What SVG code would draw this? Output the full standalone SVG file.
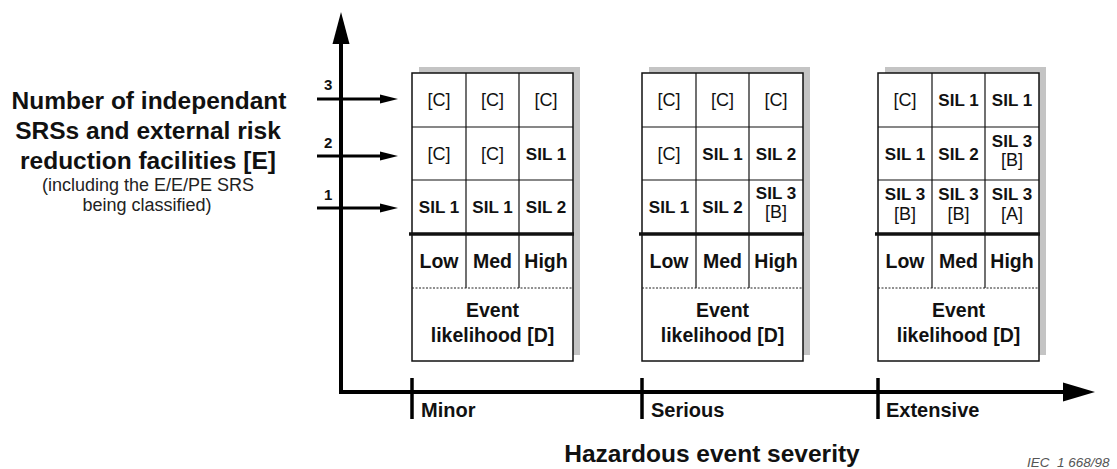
<svg xmlns="http://www.w3.org/2000/svg" width="1117" height="469" viewBox="0 0 1117 469">
<style>
  text { font-family: "Liberation Sans", Arial, sans-serif; fill: #111; }
  .head { font-size: 24.5px; font-weight: bold; text-anchor: middle; }
  .sub { font-size: 18px; text-anchor: middle; fill: #222; }
  .num { font-size: 15px; font-weight: bold; }
  .sil { font-size: 17px; font-weight: bold; text-anchor: middle; }
  .br { font-size: 18px; text-anchor: middle; }
  .lmh { font-size: 19.5px; font-weight: bold; text-anchor: middle; }
  .ev { font-size: 19.5px; font-weight: bold; text-anchor: middle; }
  .sev { font-size: 20px; font-weight: bold; }
  .title { font-size: 24.5px; font-weight: bold; text-anchor: middle; }
  .iec { font-size: 13.5px; font-style: italic; fill: #555; white-space: pre; }
  .shadow { fill: #c4c4c4; }
  .frame { fill: #fff; stroke: #111; stroke-width: 1.5; }
  .grid { stroke: #111; stroke-width: 1.2; fill: none; }
  .thick { stroke: #111; stroke-width: 3.5; }
  .dot { stroke: #222; stroke-width: 1; stroke-dasharray: 2 1.5; }
  .axis { stroke: #000; stroke-width: 4; fill: none; }
  .tick { stroke: #000; stroke-width: 3.5; }
  .harrow { stroke: #000; stroke-width: 3; }
  .head-fill { fill: #000; }
</style>

<g id="left-label">
  <text class="head" x="149" y="109">Number of independant</text>
  <text class="head" x="148" y="139">SRSs and external risk</text>
  <text class="head" x="148" y="169">reduction facilities [E]</text>
  <text class="sub" x="148" y="191">(including the E/E/PE SRS</text>
  <text class="sub" x="147" y="211">being classified)</text>
</g>

<g id="connectors">
  <!-- vertical axis -->
  <line class="axis" x1="341" y1="40" x2="341" y2="394"/>
  <polygon class="head-fill" points="341,12 332.5,44 349.5,44"/>
  <!-- horizontal axis -->
  <line class="axis" x1="339" y1="392" x2="1066" y2="392"/>
  <polygon class="head-fill" points="1095,392 1063,382.5 1063,401.5"/>
  <!-- ticks -->
  <line class="tick" x1="412" y1="378" x2="412" y2="419"/>
  <line class="tick" x1="642" y1="378" x2="642" y2="419"/>
  <line class="tick" x1="878" y1="378" x2="878" y2="419"/>
  <!-- level arrows -->
  <line class="harrow" x1="317" y1="99" x2="382" y2="99"/>
  <polygon class="head-fill" points="398,99 380,94.5 380,103.5"/>
  <line class="harrow" x1="317" y1="156" x2="382" y2="156"/>
  <polygon class="head-fill" points="398,156 380,151.5 380,160.5"/>
  <line class="harrow" x1="317" y1="208" x2="382" y2="208"/>
  <polygon class="head-fill" points="398,208 380,203.5 380,212.5"/>
  <text class="num" x="324" y="90">3</text>
  <text class="num" x="324" y="148">2</text>
  <text class="num" x="324" y="200">1</text>
</g>

<g id="axis-labels">
  <text class="sev" x="421" y="417">Minor</text>
  <text class="sev" x="651" y="417">Serious</text>
  <text class="sev" x="886" y="417">Extensive</text>
  <text class="title" x="712" y="462">Hazardous event severity</text>
  <text class="iec" x="1027" y="467" xml:space="preserve">IEC  1 668/98</text>
</g>

<g id="box-minor">
  <rect class="shadow" x="419" y="67" width="161" height="288"/>
  <rect class="frame" x="412" y="73" width="161" height="288"/>
  <line class="grid" x1="412" y1="127" x2="573" y2="127"/>
  <line class="grid" x1="412" y1="180" x2="573" y2="180"/>
  <line class="grid" x1="466" y1="73" x2="466" y2="288"/>
  <line class="grid" x1="519" y1="73" x2="519" y2="288"/>
  <line class="thick" x1="409" y1="234" x2="574" y2="234"/>
  <line class="dot" x1="412" y1="288" x2="573" y2="288"/>
  <text class="br" x="439" y="106">[C]</text>
  <text class="br" x="492.5" y="106">[C]</text>
  <text class="br" x="546" y="106">[C]</text>
  <text class="br" x="439" y="159.5">[C]</text>
  <text class="br" x="492.5" y="159.5">[C]</text>
  <text class="sil" x="546" y="159.5">SIL 1</text>
  <text class="sil" x="439" y="213">SIL 1</text>
  <text class="sil" x="492.5" y="213">SIL 1</text>
  <text class="sil" x="546" y="213">SIL 2</text>
  <text class="lmh" x="439" y="268">Low</text>
  <text class="lmh" x="492.5" y="268">Med</text>
  <text class="lmh" x="546" y="268">High</text>
  <text class="ev" x="492.5" y="317">Event</text>
  <text class="ev" x="492.5" y="342">likelihood [D]</text>
</g>

<g id="box-serious">
  <rect class="shadow" x="649" y="67" width="161" height="288"/>
  <rect class="frame" x="642" y="73" width="161" height="288"/>
  <line class="grid" x1="642" y1="127" x2="803" y2="127"/>
  <line class="grid" x1="642" y1="180" x2="803" y2="180"/>
  <line class="grid" x1="696" y1="73" x2="696" y2="288"/>
  <line class="grid" x1="749" y1="73" x2="749" y2="288"/>
  <line class="thick" x1="639" y1="234" x2="804" y2="234"/>
  <line class="dot" x1="642" y1="288" x2="803" y2="288"/>
  <text class="br" x="669" y="106">[C]</text>
  <text class="br" x="722.5" y="106">[C]</text>
  <text class="br" x="776" y="106">[C]</text>
  <text class="br" x="669" y="159.5">[C]</text>
  <text class="sil" x="722.5" y="159.5">SIL 1</text>
  <text class="sil" x="776" y="159.5">SIL 2</text>
  <text class="sil" x="669" y="213">SIL 1</text>
  <text class="sil" x="722.5" y="213">SIL 2</text>
  <text class="sil" x="776" y="199">SIL 3</text>
  <text class="br" x="776" y="218">[B]</text>
  <text class="lmh" x="669" y="268">Low</text>
  <text class="lmh" x="722.5" y="268">Med</text>
  <text class="lmh" x="776" y="268">High</text>
  <text class="ev" x="722.5" y="317">Event</text>
  <text class="ev" x="722.5" y="342">likelihood [D]</text>
</g>

<g id="box-extensive">
  <rect class="shadow" x="885" y="67" width="161" height="288"/>
  <rect class="frame" x="878" y="73" width="161" height="288"/>
  <line class="grid" x1="878" y1="127" x2="1039" y2="127"/>
  <line class="grid" x1="878" y1="180" x2="1039" y2="180"/>
  <line class="grid" x1="932" y1="73" x2="932" y2="288"/>
  <line class="grid" x1="985" y1="73" x2="985" y2="288"/>
  <line class="thick" x1="875" y1="234" x2="1040" y2="234"/>
  <line class="dot" x1="878" y1="288" x2="1039" y2="288"/>
  <text class="br" x="905" y="106">[C]</text>
  <text class="sil" x="958.5" y="106">SIL 1</text>
  <text class="sil" x="1012" y="106">SIL 1</text>
  <text class="sil" x="905" y="159.5">SIL 1</text>
  <text class="sil" x="958.5" y="159.5">SIL 2</text>
  <text class="sil" x="1012" y="147">SIL 3</text>
  <text class="br" x="1012" y="166">[B]</text>
  <text class="sil" x="905" y="200">SIL 3</text>
  <text class="br" x="905" y="220">[B]</text>
  <text class="sil" x="958.5" y="200">SIL 3</text>
  <text class="br" x="958.5" y="220">[B]</text>
  <text class="sil" x="1012" y="200">SIL 3</text>
  <text class="br" x="1012" y="220">[A]</text>
  <text class="lmh" x="905" y="268">Low</text>
  <text class="lmh" x="958.5" y="268">Med</text>
  <text class="lmh" x="1012" y="268">High</text>
  <text class="ev" x="958.5" y="317">Event</text>
  <text class="ev" x="958.5" y="342">likelihood [D]</text>
</g>
</svg>
